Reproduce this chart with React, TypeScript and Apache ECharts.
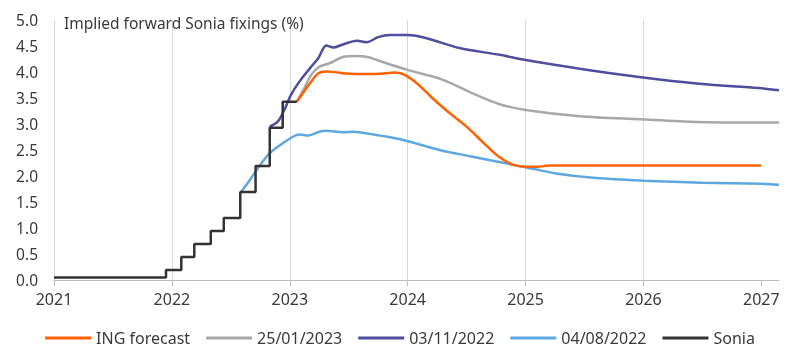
import React, { useEffect, useRef } from "react";
import * as echarts from "echarts";

const yearTicks = [2021, 2022, 2023, 2024, 2025, 2026, 2027];
const yTicks = [0, 0.5, 1, 1.5, 2, 2.5, 3, 3.5, 4, 4.5, 5];

const ingForecast: [number, number][] = [
  [2023.06, 3.43], [2023.11, 3.59], [2023.17, 3.78], [2023.24, 3.97], [2023.31, 4.01],
  [2023.48, 3.97], [2023.66, 3.96], [2023.8, 3.97], [2023.89, 3.99], [2023.97, 3.95],
  [2024.08, 3.78], [2024.2, 3.52], [2024.35, 3.22], [2024.5, 2.95], [2024.67, 2.58],
  [2024.78, 2.36], [2024.89, 2.22], [2025.0, 2.18], [2025.1, 2.18],
  [2025.2, 2.2], [2026.0, 2.2], [2027.0, 2.2],
];

const curve250123: [number, number][] = [
  [2023.06, 3.43], [2023.13, 3.72], [2023.18, 3.94], [2023.25, 4.1], [2023.34, 4.17],
  [2023.45, 4.29], [2023.57, 4.31], [2023.66, 4.29], [2023.75, 4.22], [2024.0, 4.04],
  [2024.3, 3.85], [2024.58, 3.56], [2024.78, 3.38], [2025.0, 3.27], [2025.46, 3.15],
  [2025.97, 3.09], [2026.45, 3.04], [2026.98, 3.03], [2027.15, 3.03],
];

const curve031122: [number, number][] = [
  [2022.83, 2.95], [2022.9, 3.05], [2022.96, 3.3], [2023.01, 3.56], [2023.08, 3.81],
  [2023.17, 4.07], [2023.24, 4.26], [2023.31, 4.51], [2023.37, 4.47], [2023.45, 4.53],
  [2023.57, 4.6], [2023.65, 4.57], [2023.75, 4.67], [2023.85, 4.71], [2024.0, 4.71],
  [2024.16, 4.65], [2024.44, 4.46], [2024.78, 4.33], [2025.0, 4.23], [2025.5, 4.05],
  [2025.98, 3.9], [2026.45, 3.78], [2026.98, 3.69], [2027.15, 3.65],
];

const curve040822: [number, number][] = [
  [2022.59, 1.7], [2022.66, 1.92], [2022.72, 2.12], [2022.83, 2.44], [2022.94, 2.63],
  [2023.03, 2.76], [2023.08, 2.8], [2023.16, 2.78], [2023.25, 2.85], [2023.31, 2.87],
  [2023.45, 2.84], [2023.54, 2.85], [2023.68, 2.81], [2023.93, 2.71], [2024.27, 2.5],
  [2024.53, 2.38], [2025.0, 2.17], [2025.26, 2.05], [2025.6, 1.96], [2026.0, 1.91],
  [2026.5, 1.87], [2027.0, 1.85], [2027.15, 1.83],
];

const sonia: [number, number][] = [
  [2021.0, 0.05], [2021.95, 0.19], [2022.08, 0.44], [2022.19, 0.69], [2022.33, 0.94],
  [2022.44, 1.19], [2022.58, 1.69], [2022.71, 2.19], [2022.83, 2.93], [2022.94, 3.43],
  [2023.06, 3.43],
];

const FONT = "'Noto Sans', sans-serif";
const TXT = "#3a3a3a";

export default function App() {
  const ref = useRef<HTMLDivElement>(null);
  useEffect(() => {
    if (!ref.current) return;
    const chart = echarts.init(ref.current, undefined, { renderer: "svg" });
    const lineSeries = (name: string, data: [number, number][], color: string, extra: any = {}) => ({
      name,
      type: "line",
      data,
      showSymbol: false,
      symbol: "none",
      smooth: 0.3,
      lineStyle: { color, width: 2.5 },
      itemStyle: { color },
      ...extra,
    });
    chart.setOption({
      animation: false,
      textStyle: { fontFamily: FONT },
      grid: { left: 54, right: 21, top: 20, bottom: 84, containLabel: false },
      title: {
        text: "Implied forward Sonia fixings (%)",
        left: 59,
        top: 10,
        textStyle: { fontFamily: FONT, fontSize: 15.5, fontWeight: "normal", color: TXT },
      },
      legend: {
        bottom: 13,
        left: "center",
        icon: "rect",
        itemWidth: 46,
        itemHeight: 3,
        itemGap: 16,
        data: ["ING forecast", "25/01/2023", "03/11/2022", "04/08/2022", "Sonia"],
        textStyle: { fontFamily: FONT, fontSize: 16, color: TXT, padding: [0, 0, 0, 0] },
      },
      xAxis: {
        type: "value",
        min: 2021,
        max: 2027.15,
        interval: 1,
        axisLine: { show: true, lineStyle: { color: "#bfbfbf", width: 1 } },
        axisTick: { show: true, length: 6, customValues: yearTicks, lineStyle: { color: "#bfbfbf" } },
        axisLabel: {
          customValues: yearTicks,
          margin: 11,
          fontSize: 16,
          color: TXT,
          fontFamily: FONT,
          formatter: (v: number) => String(Math.round(v)),
        },
        splitLine: { show: true, showMaxLine: false, lineStyle: { color: "#d9d9d9", width: 1 } },
      },
      yAxis: {
        type: "value",
        min: 0,
        max: 5,
        interval: 0.5,
        axisLine: { show: false },
        axisTick: { show: false },
        splitLine: { show: false },
        axisLabel: {
          customValues: yTicks,
          margin: 16,
          fontSize: 15.5,
          color: TXT,
          fontFamily: FONT,
          formatter: (v: number) => v.toFixed(1),
        },
      },
      series: [
        lineSeries("04/08/2022", curve040822, "#5ea8e2"),
        lineSeries("03/11/2022", curve031122, "#4f4d9e"),
        lineSeries("25/01/2023", curve250123, "#a8a8a8"),
        lineSeries("ING forecast", ingForecast, "#ff6200"),
        lineSeries("Sonia", sonia, "#333333", { smooth: false, step: "end" }),
      ],
    });
    return () => chart.dispose();
  }, []);
  return (
    <div
      ref={ref}
      style={{ position: "fixed", left: 0, top: 0, width: 800, height: 364 }}
    />
  );
}
